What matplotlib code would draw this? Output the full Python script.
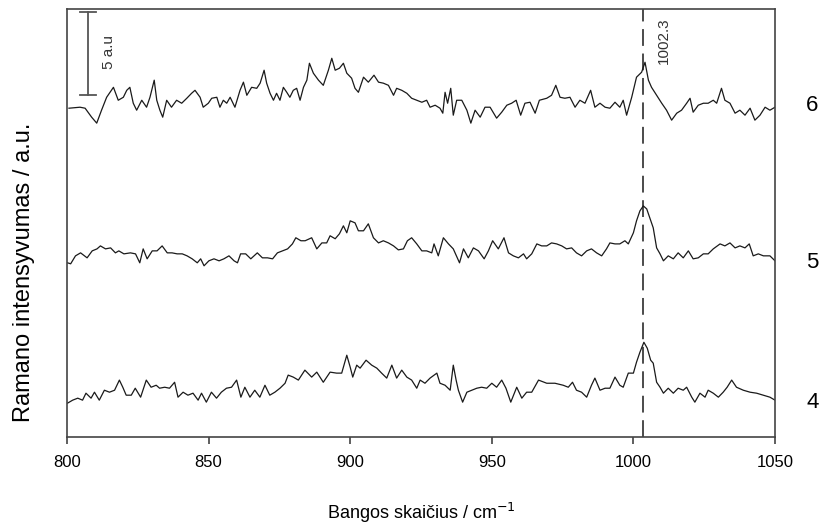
import matplotlib
matplotlib.use("Agg")
import matplotlib.pyplot as plt
import numpy as np

# ========== 数据 ==========
WN_6 = [800.7, 804.6, 806.4, 808.7, 810.5, 812.2, 814.0, 816.4, 818.1, 819.9, 821.1, 822.2, 823.4, 824.6,
        826.4, 828.1, 829.3, 830.8, 831.7, 832.8, 833.8, 835.2, 836.9, 838.7, 840.5, 842.3, 844.0, 845.2,
        847.0, 848.1, 849.9, 851.1, 852.9, 854.0, 855.2, 856.4, 857.6, 859.3, 861.1, 862.3, 863.5, 865.2,
        867.0, 868.2, 869.6, 870.5, 871.7, 872.9, 874.0, 875.2, 876.4, 877.6, 878.7, 879.9, 881.1, 882.3,
        883.5, 884.7, 885.6, 887.0, 888.8, 890.5, 892.3, 893.5, 894.7, 896.2, 897.6, 898.8, 900.5, 901.7,
        902.9, 904.7, 906.4, 908.4, 910.0, 911.7, 913.5, 915.3, 916.4, 918.2, 920.0, 921.7, 923.5, 925.3,
        927.0, 928.2, 930.0, 931.7, 932.7, 933.5, 934.4, 935.5, 936.4, 937.6, 939.4, 941.2, 942.6, 944.1,
        945.9, 947.6, 949.4, 951.7, 953.5, 955.3, 957.0, 958.6, 960.2, 961.7, 963.5, 965.3, 966.8, 969.4,
        971.1, 972.6, 974.1, 975.8, 977.6, 979.4, 981.1, 982.9, 984.9, 986.4, 988.2, 990.0, 991.7, 993.5,
        995.2, 996.4, 997.6, 999.4, 1001.1, 1002.9, 1004.1, 1005.3, 1006.4, 1008.2, 1010.0, 1011.7, 1013.5,
        1015.3, 1017.0, 1018.8, 1020.0, 1021.1, 1022.9, 1024.7, 1026.4, 1028.2, 1029.4, 1031.1, 1032.3,
        1034.1, 1035.9, 1037.6, 1039.4, 1041.2, 1042.9, 1044.7, 1046.5, 1048.2, 1050.0]
INT_6 = [-0.18, -0.12, -0.18, -0.72, -1.08, -0.30, 0.48, 1.08, 0.30, 0.48, 0.90, 1.08, 0.12, -0.30,
         0.30, -0.12, 0.48, 1.51, 0.30, -0.30, -0.72, 0.30, -0.12, 0.30, 0.12, 0.42, 0.72, 0.90,
         0.48, -0.12, 0.12, 0.42, 0.48, -0.12, 0.30, 0.12, 0.48, -0.12, 0.90, 1.39, 0.60, 1.08,
         1.02, 1.33, 2.11, 1.33, 0.72, 0.30, 0.72, 0.30, 1.08, 0.78, 0.48, 0.90, 1.02, 0.30,
         1.08, 1.51, 2.53, 1.93, 1.51, 1.20, 2.11, 2.83, 2.11, 2.23, 2.53, 1.93, 1.63, 1.02,
         0.78, 1.69, 1.39, 1.81, 1.39, 1.33, 1.20, 0.60, 1.02, 0.90, 0.72, 0.42, 0.30, 0.18,
         0.30, -0.12, 0.00, -0.18, -0.48, 0.78, 0.12, 1.02, -0.60, 0.30, 0.30, -0.30, -1.08, -0.30,
         -0.72, -0.12, -0.12, -0.78, -0.42, 0.00, 0.12, 0.30, -0.60, 0.12, 0.18, -0.48, 0.30, 0.42,
         0.60, 1.20, 0.48, 0.42, 0.48, -0.12, 0.30, 0.12, 0.90, -0.12, 0.12, -0.12, -0.18, 0.18,
         -0.12, 0.30, -0.60, 0.48, 1.69, 1.99, 2.59, 1.51, 1.08, 0.60, 0.12, -0.30, -0.90,
         -0.48, -0.30, 0.12, 0.42, -0.42, 0.00, 0.12, 0.12, 0.30, 0.12, 1.02, 0.30,
         0.12, -0.48, -0.30, -0.60, -0.18, -0.90, -0.60, -0.12, -0.30, -0.12]

WN_5 = [800.2, 801.3, 803.0, 804.8, 807.1, 808.9, 810.6, 811.8, 813.6, 815.4, 817.1, 818.3, 820.1, 822.4,
        824.2, 825.7, 826.9, 828.3, 830.1, 831.8, 833.6, 835.4, 837.1, 838.9, 840.7, 842.4, 844.2, 846.0,
        847.2, 848.4, 850.1, 851.9, 853.7, 855.4, 857.2, 859.0, 860.2, 861.3, 863.1, 864.9, 867.2, 869.0,
        870.8, 872.6, 874.3, 876.1, 877.9, 879.6, 880.8, 882.6, 884.1, 886.4, 888.2, 890.0, 891.7, 892.9,
        894.7, 896.2, 897.6, 898.8, 900.0, 901.7, 902.9, 904.7, 906.4, 908.2, 910.0, 911.7, 913.5, 915.3,
        917.0, 918.8, 920.2, 921.7, 923.5, 925.3, 927.0, 928.8, 929.6, 931.1, 932.9, 934.7, 936.4, 938.6,
        940.0, 941.7, 943.5, 945.3, 947.3, 948.8, 950.3, 952.3, 954.3, 955.9, 957.6, 959.4, 961.2, 962.3,
        964.1, 965.9, 967.6, 969.4, 971.1, 972.9, 974.7, 976.4, 978.2, 979.9, 981.7, 983.5, 985.2, 987.0,
        988.8, 990.5, 991.7, 993.5, 995.2, 997.0, 998.2, 1000.0, 1001.1, 1002.3, 1003.5, 1004.7, 1005.8,
        1007.0, 1008.2, 1009.4, 1010.6, 1012.3, 1014.1, 1015.8, 1017.6, 1019.4, 1021.1, 1022.9, 1024.7,
        1026.4, 1028.2, 1030.6, 1032.3, 1034.1, 1035.9, 1037.6, 1039.4, 1040.9, 1042.3, 1044.1, 1045.9,
        1048.2, 1050.0]
INT_5 = [0.00, -0.06, 0.42, 0.60, 0.30, 0.72, 0.84, 1.02, 0.84, 0.90, 0.60, 0.72, 0.54, 0.60,
         0.54, 0.00, 0.84, 0.24, 0.72, 0.72, 1.02, 0.60, 0.60, 0.54, 0.54, 0.42, 0.24, 0.00,
         0.24, -0.18, 0.12, 0.24, 0.12, 0.24, 0.42, 0.12, 0.00, 0.54, 0.54, 0.24, 0.60, 0.30,
         0.30, 0.24, 0.60, 0.72, 0.84, 1.14, 1.51, 1.33, 1.33, 1.51, 0.84, 1.20, 1.20, 1.63,
         1.45, 1.75, 2.23, 1.81, 2.53, 2.41, 1.93, 1.93, 2.35, 1.51, 1.20, 1.33, 1.20, 1.02,
         0.78, 0.84, 1.33, 1.51, 1.14, 0.72, 0.72, 0.60, 1.14, 0.42, 1.51, 1.14, 0.84, 0.00,
         0.84, 0.30, 0.90, 0.72, 0.24, 0.72, 1.33, 0.84, 1.51, 0.60, 0.42, 0.30, 0.54, 0.24,
         0.54, 1.14, 1.02, 1.02, 1.20, 1.14, 1.02, 0.84, 0.90, 0.60, 0.42, 0.72, 0.84, 0.60,
         0.42, 0.84, 1.20, 1.14, 1.14, 1.33, 1.14, 1.81, 2.53, 3.13, 3.43, 3.25, 2.71,
         2.11, 0.90, 0.54, 0.12, 0.42, 0.24, 0.60, 0.30, 0.72, 0.24, 0.30, 0.54,
         0.54, 0.84, 1.14, 1.02, 1.20, 0.90, 1.02, 0.90, 1.14, 0.42, 0.54, 0.42,
         0.42, 0.12]

WN_4 = [800.2, 802.0, 803.8, 805.5, 806.7, 808.5, 809.7, 811.4, 813.2, 815.0, 816.8, 818.5, 819.7, 820.9,
        822.7, 824.1, 826.0, 828.0, 829.7, 831.5, 832.7, 834.5, 836.2, 838.0, 839.2, 841.0, 842.7, 844.5,
        846.3, 847.5, 849.2, 851.0, 852.8, 854.5, 856.3, 858.1, 859.9, 861.4, 862.8, 864.6, 866.3, 868.1,
        869.9, 871.6, 873.4, 875.2, 877.0, 878.1, 879.9, 881.7, 884.0, 886.4, 888.2, 890.5, 892.9, 895.2,
        897.0, 898.8, 900.0, 900.9, 902.3, 903.5, 905.6, 907.6, 909.4, 911.1, 912.9, 914.7, 916.4, 918.2,
        920.0, 921.7, 923.5, 924.7, 926.4, 928.2, 930.6, 931.7, 933.5, 935.3, 936.4, 937.4, 938.2, 939.7,
        941.2, 942.9, 944.7, 946.4, 948.2, 950.0, 951.7, 953.5, 955.0, 956.7, 958.8, 960.6, 962.3, 964.1,
        966.5, 969.4, 972.3, 975.2, 977.0, 978.5, 979.9, 981.7, 983.5, 985.2, 986.4, 988.2, 990.0, 991.7,
        993.5, 995.2, 996.4, 998.2, 1000.0, 1001.1, 1002.3, 1003.7, 1004.9, 1006.1, 1007.0, 1008.2, 1009.4,
        1010.6, 1012.3, 1014.1, 1015.8, 1017.6, 1018.8, 1020.6, 1021.7, 1023.5, 1025.3, 1026.4, 1028.2,
        1030.0, 1031.7, 1033.1, 1034.7, 1036.4, 1038.8, 1041.2, 1043.5, 1045.9, 1048.2, 1050.0]
INT_4 = [-0.06, 0.12, 0.24, 0.12, 0.54, 0.24, 0.60, 0.12, 0.72, 0.60, 0.72, 1.33, 0.90, 0.42,
         0.42, 0.84, 0.30, 1.33, 0.90, 1.02, 0.84, 0.90, 0.84, 1.20, 0.30, 0.60, 0.42, 0.54,
         0.12, 0.54, 0.00, 0.60, 0.24, 0.60, 0.84, 0.90, 1.33, 0.30, 0.90, 0.30, 0.72, 0.30,
         1.02, 0.42, 0.60, 0.84, 1.14, 1.63, 1.51, 1.33, 1.93, 1.51, 1.81, 1.20, 1.81, 1.75,
         1.75, 2.83, 2.11, 1.51, 2.23, 2.05, 2.53, 2.23, 2.05, 1.75, 1.45, 2.23, 1.45, 1.93,
         1.51, 1.33, 0.84, 1.33, 1.14, 1.45, 1.75, 1.14, 1.02, 0.72, 2.23, 1.33, 0.72, 0.00,
         0.60, 0.72, 0.84, 0.90, 0.84, 1.14, 0.90, 1.33, 0.84, 0.00, 0.90, 0.24, 0.60, 0.60,
         1.33, 1.14, 1.14, 1.02, 0.90, 1.20, 0.72, 0.60, 0.30, 1.02, 1.45, 0.72, 0.84, 0.84,
         1.51, 1.02, 0.90, 1.75, 1.75, 2.41, 3.01, 3.61, 3.25, 2.53, 2.35, 1.20, 0.90,
         0.54, 0.84, 0.54, 0.84, 0.72, 0.90, 0.30, 0.00, 0.54, 0.30, 0.72, 0.54,
         0.30, 0.60, 0.90, 1.33, 0.90, 0.72, 0.60, 0.54, 0.42, 0.30, 0.12]

SPECTRA = [("4", WN_4, INT_4, 2.1), ("5", WN_5, INT_5, 10.5), ("6", WN_6, INT_6, 20.0)]

PEAK_POS = 1003.4       # dashed line as drawn in the original
PEAK_LABEL = "1002.3"
SCALE_AU = 5

plt.rcParams['font.family'] = ['Liberation Sans Narrow', 'Liberation Sans', 'DejaVu Sans']

fig = plt.figure(figsize=(8.25, 5.27), dpi=100)
ax = fig.add_axes([0.0812, 0.1708, 0.8582, 0.8121])

for label, wn, inten, offset in SPECTRA:
    y = np.array(inten) + offset
    ax.plot(wn, y, color='#1a1a1a', lw=0.9)
    ax.text(1050 + 250 * 0.044, offset, label, fontsize=16, va='center', ha='left',
            family=['Liberation Sans', 'DejaVu Sans'], clip_on=False)

ax.axvline(PEAK_POS, color='#1a1a1a', lw=1.1, dashes=(11, 5))
ax.text(1010.8, 25.3, PEAK_LABEL, rotation=90, fontsize=11, va='top', ha='center', color='#333333')

# 标尺 5 a.u.
ax.plot([807.4, 807.4], [25.6, 25.6 - SCALE_AU], color='#555555', lw=1.3)
ax.plot([804.6, 810.4], [25.6, 25.6], color='#555555', lw=1.3)
ax.plot([804.6, 810.4], [25.6 - SCALE_AU, 25.6 - SCALE_AU], color='#555555', lw=1.3)
ax.text(815.0, 23.2, f"{SCALE_AU} a.u", rotation=90, fontsize=11, va='center', ha='center', color='#333333')

ax.set_xlim(800, 1050)
ax.set_ylim(0, 25.8)
ax.set_xticks([800, 850, 900, 950, 1000, 1050])
ax.set_yticks([])
ax.tick_params(axis='x', direction='out', length=5, width=1.1, labelsize=12, color='#333333', pad=8)
for s in ax.spines.values():
    s.set_color('#444444')
    s.set_linewidth(1.2)

ax.set_xlabel("Bangos skaičius / cm$^{-1}$", fontsize=13, labelpad=22)
ax.set_ylabel("Ramano intensyvumas / a.u.", fontsize=17)
ax.yaxis.set_label_coords(-0.045, 0.385)

fig.savefig("out.png", dpi=100)
